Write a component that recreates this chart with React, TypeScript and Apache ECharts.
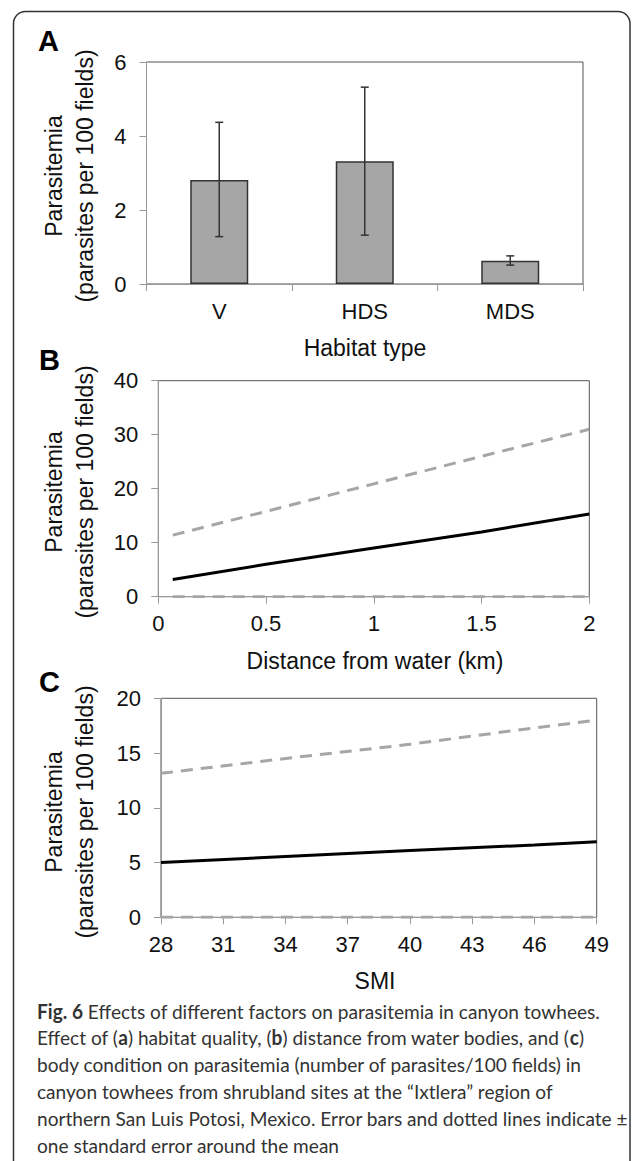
import React, { useEffect, useRef } from "react";
import * as echarts from "echarts";

// ---- Panel A: habitat type ----
const HABITATS = ["V", "HDS", "MDS"];
const HABITAT_MEAN = [2.81, 3.32, 0.63];
const HABITAT_SE_LOW = [1.28, 1.32, 0.51];
const HABITAT_SE_HIGH = [4.37, 5.32, 0.76];

// ---- Panel B: distance from water ----
const DIST_X = [0.067, 0.5, 1, 1.5, 2];
const DIST_MEAN = [3.2, 6.0, 9.0, 12.0, 15.3];
const DIST_UPPER = [11.4, 15.8, 20.9, 26.0, 31.0];
const DIST_LOWER = [0, 0, 0, 0, 0];

// ---- Panel C: SMI ----
const SMI_CATEGORIES = [
  "28", "29", "30", "31", "32", "33", "34", "35", "36", "37", "38",
  "39", "40", "41", "42", "43", "44", "45", "46", "47", "48", "49",
];
const SMI_X = ["28", "34", "40", "46", "49"];
const SMI_MEAN = [5.0, 5.55, 6.1, 6.6, 6.9];
const SMI_UPPER = [13.15, 14.5, 15.8, 17.3, 18.0];
const SMI_LOWER = [0, 0, 0, 0, 0];

const Y_TITLE_1 = "Parasitemia";
const Y_TITLE_2 = "(parasites per 100 fields)";

const FONT = "'Liberation Sans', Arial, sans-serif";
const CAP_FONT = "Lato, 'Open Sans', sans-serif";

const pairs = (xs: any[], ys: number[]) => xs.map((x, i) => [x, ys[i]]);

export default function App() {
  const ref = useRef<HTMLDivElement>(null);

  useEffect(() => {
    if (!ref.current) return;
    const chart = echarts.init(ref.current, undefined, { renderer: "svg" });

    const axisLabel = { color: "#111", fontSize: 22, fontFamily: FONT };
    const yAxisCommon = {
      type: "value",
      axisLine: { show: true, lineStyle: { color: "#999", width: 1 } },
      axisTick: { show: true, inside: false, length: 7, lineStyle: { color: "#999" } },
      splitLine: { show: false },
      axisLabel: { ...axisLabel, margin: 20 },
    };
    const xAxisCommon = {
      axisLine: { show: true, lineStyle: { color: "#999", width: 1 } },
      axisTick: { show: true, inside: false, length: 7, lineStyle: { color: "#999" } },
      splitLine: { show: false },
      axisLabel: { ...axisLabel, margin: 16 },
    };
    const gridCommon = { show: true, borderColor: "#555", borderWidth: 1, backgroundColor: "transparent" };

    const dashed = { color: "#a6a6a6", width: 3, type: [12, 8] as any };
    const solid = { color: "#000", width: 3 };

    const yTitle = (cy: number) => [
      {
        type: "text",
        x: 54,
        y: cy,
        rotation: Math.PI / 2,
        style: { text: Y_TITLE_1, fontSize: 23, fontFamily: FONT, fill: "#111", align: "center", verticalAlign: "middle" },
      },
      {
        type: "text",
        x: 85,
        y: cy,
        rotation: Math.PI / 2,
        style: { text: Y_TITLE_2, fontSize: 23, fontFamily: FONT, fill: "#111", align: "center", verticalAlign: "middle" },
      },
    ];
    const xTitle = (text: string, cx: number, cy: number) => ({
      type: "text",
      x: cx,
      y: cy,
      style: { text, fontSize: 23, fontFamily: FONT, fill: "#111", align: "center", verticalAlign: "middle" },
    });
    const letter = (text: string, lx: number, cy: number) => ({
      type: "text",
      x: lx,
      y: cy,
      style: { text, fontSize: 29, fontWeight: "bold", fontFamily: FONT, fill: "#000", align: "left", verticalAlign: "middle" },
    });

    const bRich = { fontSize: 20, fontFamily: CAP_FONT, fontWeight: "bold", fill: "#333" };
    const captionLines = [
      "{b|Fig. 6} Effects of different factors on parasitemia in canyon towhees.",
      "Effect of ({b|a}) habitat quality, ({b|b}) distance from water bodies, and ({b|c})",
      "body condition on parasitemia (number of parasites/100 fields) in",
      "canyon towhees from shrubland sites at the \u201cIxtlera\u201d region of",
      "northern San Luis Potosi, Mexico. Error bars and dotted lines indicate \u00b1",
      "one standard error around the mean",
    ];
    const caption = {
      type: "group",
      x: 37,
      y: 1011,
      scaleX: 0.955,
      children: captionLines.map((t, i) => ({
        type: "text",
        x: 0,
        y: i * 26.8,
        style: {
          text: t,
          fontSize: 20,
          fontFamily: CAP_FONT,
          fill: "#333",
          align: "left",
          verticalAlign: "middle",
          rich: { b: bRich },
        },
      })),
    };

    const option: any = {
      animation: false,
      backgroundColor: "#fff",
      textStyle: { fontFamily: FONT },
      grid: [
        { left: 146.5, top: 62, width: 436.5, height: 222, ...gridCommon },
        { left: 158.3, top: 380.7, width: 431, height: 216, ...gridCommon },
        { left: 161, top: 698.3, width: 435.7, height: 219, ...gridCommon },
      ],
      xAxis: [
        {
          ...xAxisCommon,
          type: "category",
          gridIndex: 0,
          data: HABITATS,
          boundaryGap: true,
          axisTick: { ...xAxisCommon.axisTick, alignWithLabel: false },
        },
        {
          ...xAxisCommon,
          type: "value",
          gridIndex: 1,
          min: 0,
          max: 2,
          interval: 0.5,
        },
        {
          ...xAxisCommon,
          type: "category",
          gridIndex: 2,
          data: SMI_CATEGORIES,
          boundaryGap: false,
          axisLabel: { ...xAxisCommon.axisLabel, interval: 2 },
          axisTick: { ...xAxisCommon.axisTick, interval: 2 },
        },
      ],
      yAxis: [
        { ...yAxisCommon, gridIndex: 0, min: 0, max: 6, interval: 2 },
        { ...yAxisCommon, gridIndex: 1, min: 0, max: 40, interval: 10 },
        { ...yAxisCommon, gridIndex: 2, min: 0, max: 20, interval: 5 },
      ],
      series: [
        {
          type: "bar",
          xAxisIndex: 0,
          yAxisIndex: 0,
          data: HABITAT_MEAN,
          barWidth: 58,
          itemStyle: { color: "#a6a6a6", borderColor: "#333", borderWidth: 1.5 },
          z: 2,
        },
        {
          type: "custom",
          xAxisIndex: 0,
          yAxisIndex: 0,
          z: 5,
          data: HABITATS.map((_, i) => [i, HABITAT_SE_LOW[i], HABITAT_SE_HIGH[i]]),
          encode: { x: 0, y: [1, 2] },
          renderItem: (params: any, api: any) => {
            const lo = api.coord([api.value(0), api.value(1)]);
            const hi = api.coord([api.value(0), api.value(2)]);
            const hw = 4;
            const st = { stroke: "#333", lineWidth: 1.5 };
            return {
              type: "group",
              children: [
                { type: "line", shape: { x1: lo[0], y1: lo[1], x2: hi[0], y2: hi[1] }, style: st },
                { type: "line", shape: { x1: hi[0] - hw, y1: hi[1], x2: hi[0] + hw, y2: hi[1] }, style: st },
                { type: "line", shape: { x1: lo[0] - hw, y1: lo[1], x2: lo[0] + hw, y2: lo[1] }, style: st },
              ],
            };
          },
        },
        {
          type: "line",
          xAxisIndex: 1,
          yAxisIndex: 1,
          data: pairs(DIST_X, DIST_LOWER),
          showSymbol: false,
          lineStyle: dashed,
          z: 3,
        },
        {
          type: "line",
          xAxisIndex: 1,
          yAxisIndex: 1,
          data: pairs(DIST_X, DIST_UPPER),
          showSymbol: false,
          lineStyle: dashed,
          z: 3,
        },
        {
          type: "line",
          xAxisIndex: 1,
          yAxisIndex: 1,
          data: pairs(DIST_X, DIST_MEAN),
          showSymbol: false,
          lineStyle: solid,
          z: 4,
        },
        {
          type: "line",
          xAxisIndex: 2,
          yAxisIndex: 2,
          data: pairs(SMI_X, SMI_LOWER),
          showSymbol: false,
          lineStyle: dashed,
          z: 3,
        },
        {
          type: "line",
          xAxisIndex: 2,
          yAxisIndex: 2,
          data: pairs(SMI_X, SMI_UPPER),
          showSymbol: false,
          lineStyle: dashed,
          z: 3,
        },
        {
          type: "line",
          xAxisIndex: 2,
          yAxisIndex: 2,
          data: pairs(SMI_X, SMI_MEAN),
          showSymbol: false,
          lineStyle: solid,
          z: 4,
        },
      ],
      graphic: [
        {
          type: "rect",
          shape: { x: 13.5, y: 11.5, width: 616.5, height: 1180, r: 12 },
          style: { fill: "none", stroke: "#333", lineWidth: 1.5 },
          z: 0,
        },
        letter("A", 38, 41),
        letter("B", 39, 360),
        letter("C", 39, 682),
        ...yTitle(176),
        ...yTitle(492),
        ...yTitle(812),
        xTitle("Habitat type", 365, 348),
        xTitle("Distance from water (km)", 375, 661),
        xTitle("SMI", 375, 981),
        caption,
      ],
    };

    chart.setOption(option);
    return () => chart.dispose();
  }, []);

  return (
    <div
      ref={ref}
      style={{ position: "absolute", left: 0, top: 0, width: 632, height: 1161, background: "#fff" }}
    />
  );
}
